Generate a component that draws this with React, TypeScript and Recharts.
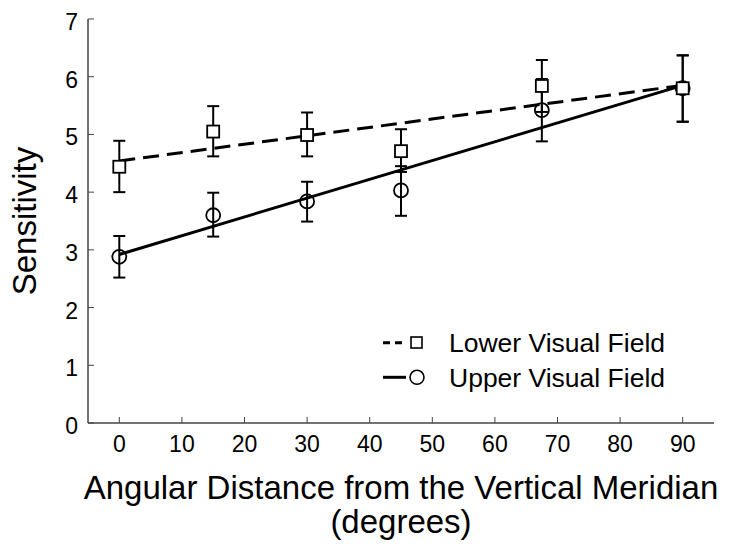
import { LineChart, Line, XAxis, YAxis, ErrorBar, Legend, Label } from "recharts"

const angles = [0, 15, 30, 45, 67.5, 90]

const lowerMean = [4.44, 5.05, 4.99, 4.71, 5.84, 5.8]
const lowerLo = [4.0, 4.62, 4.62, 4.35, 5.39, 5.22]
const lowerHi = [4.89, 5.49, 5.38, 5.09, 6.29, 6.37]

const upperMean = [2.88, 3.6, 3.84, 4.03, 5.42, 5.8]
const upperLo = [2.52, 3.23, 3.49, 3.59, 4.88, 5.22]
const upperHi = [3.24, 3.99, 4.18, 4.45, 5.96, 6.37]

// fitted lines, end points
const fitX = [0, 90]
const lowerFitY = [4.54, 5.85]
const upperFitY = [2.92, 5.85]

const xTicks = [0, 10, 20, 30, 40, 50, 60, 70, 80, 90]
const yTicks = [0, 1, 2, 3, 4, 5, 6, 7]

const points = angles.map((x, i) => ({
  x,
  lower: lowerMean[i],
  lowerErr: [lowerMean[i] - lowerLo[i], lowerHi[i] - lowerMean[i]],
  upper: upperMean[i],
  upperErr: [upperMean[i] - upperLo[i], upperHi[i] - upperMean[i]],
}))

const lowerFit = fitX.map((x, i) => ({ x, y: lowerFitY[i] }))
const upperFit = fitX.map((x, i) => ({ x, y: upperFitY[i] }))

const font = "'Liberation Sans', Arial, Helvetica, sans-serif"
const frame = "#444"

const BottomTick = ({ x, y, payload }: any) => (
  <g>
    <line x1={x} y1={y} x2={x} y2={y - 6} stroke={frame} strokeWidth={1} />
    <text x={x} y={y + 29} textAnchor="middle" fontSize={23} fontFamily={font} fill="#000">
      {payload.value}
    </text>
  </g>
)

const TopTick = ({ x, y }: any) => <line x1={x} y1={y} x2={x} y2={y + 6} stroke={frame} strokeWidth={1} />

const LeftTick = ({ x, y, payload }: any) => (
  <g>
    <line x1={x} y1={y} x2={x + 6} y2={y} stroke={frame} strokeWidth={1} />
    <text x={x - 10} y={y + 11} textAnchor="end" fontSize={23} fontFamily={font} fill="#000">
      {payload.value}
    </text>
  </g>
)

const RightTick = ({ x, y }: any) => <line x1={x} y1={y} x2={x - 6} y2={y} stroke={frame} strokeWidth={1} />

const SquareDot = (props: any) => {
  const { cx, cy, index } = props
  return <rect key={"sq" + index} x={cx - 6} y={cy - 6} width={12} height={12} fill="#fff" stroke="#000" strokeWidth={1.8} />
}

const CircleDot = (props: any) => {
  const { cx, cy, index } = props
  return <circle key={"ci" + index} cx={cx} cy={cy} r={7} fill="none" stroke="#000" strokeWidth={1.8} />
}

const renderLegend = () => (
  <svg width={320} height={70} style={{ display: "block" }}>
    <line x1={8} y1={17.7} x2={31} y2={17.7} stroke="#000" strokeWidth={3} strokeDasharray="7 5" />
    <rect x={36} y={12} width={11} height={11} fill="#fff" stroke="#000" strokeWidth={1.6} />
    <text x={74} y={27} fontSize={26.5} fontFamily={font} fill="#000">Lower Visual Field</text>
    <line x1={8} y1={52.3} x2={31} y2={52.3} stroke="#000" strokeWidth={3} />
    <circle cx={42} cy={52.3} r={7} fill="none" stroke="#000" strokeWidth={1.6} />
    <text x={74} y={61.5} fontSize={26.5} fontFamily={font} fill="#000">Upper Visual Field</text>
  </svg>
)

export default function App() {
  return (
    <div style={{ position: "absolute", left: 0, top: 0, background: "#fff" }}>
      <LineChart width={729} height={554} data={points} margin={{ top: 19, right: 15, left: 0, bottom: 0 }}>
        <XAxis
          dataKey="x"
          type="number"
          domain={[-5, 95]}
          ticks={xTicks}
          interval={0}
          height={131}
          tickSize={0}
          tickMargin={0}
          tickLine={false}
          axisLine={{ stroke: frame, strokeWidth: 1.5 }}
          tick={BottomTick}
        >
          <Label
            content={({ viewBox }: any) => {
              const cx = viewBox.x + viewBox.width / 2
              return (
                <text textAnchor="middle" fontSize={33} fontFamily={font} fill="#000">
                  <tspan x={cx} y={viewBox.y + 76}>Angular Distance from the Vertical Meridian</tspan>
                  <tspan x={cx} y={viewBox.y + 110}>(degrees)</tspan>
                </text>
              )
            }}
          />
        </XAxis>
        <XAxis
          xAxisId="top"
          orientation="top"
          dataKey="x"
          type="number"
          domain={[-5, 95]}
          ticks={xTicks}
          interval={0}
          height={0}
          tickSize={0}
          tickMargin={0}
          tickLine={false}
          axisLine={{ stroke: frame, strokeWidth: 1.5 }}
          tick={TopTick}
        />
        <YAxis
          type="number"
          domain={[0, 7]}
          ticks={yTicks}
          interval={0}
          width={88}
          tickSize={0}
          tickMargin={0}
          tickLine={false}
          axisLine={{ stroke: frame, strokeWidth: 1.5 }}
          tick={LeftTick}
        >
          <Label
            content={({ viewBox }: any) => {
              const cx = viewBox.x + 24
              const cy = viewBox.y + viewBox.height / 2
              return (
                <text
                  x={cx}
                  y={cy}
                  transform={`rotate(-90, ${cx}, ${cy})`}
                  textAnchor="middle"
                  dominantBaseline="central"
                  fontSize={33}
                  fontFamily={font}
                  fill="#000"
                >
                  Sensitivity
                </text>
              )
            }}
          />
        </YAxis>
        <YAxis
          yAxisId="right"
          orientation="right"
          type="number"
          domain={[0, 7]}
          ticks={yTicks}
          interval={0}
          width={0}
          tickSize={0}
          tickMargin={0}
          tickLine={false}
          axisLine={{ stroke: frame, strokeWidth: 1.5 }}
          tick={RightTick}
        />
        <Line dataKey="upper" stroke="none" dot={CircleDot} activeDot={false} isAnimationActive={false} legendType="none">
          <ErrorBar dataKey="upperErr" width={6} stroke="#000" strokeWidth={2} />
        </Line>
        <Line dataKey="lower" stroke="none" dot={SquareDot} activeDot={false} isAnimationActive={false} legendType="none">
          <ErrorBar dataKey="lowerErr" width={6} stroke="#000" strokeWidth={2} />
        </Line>
        <Line
          data={lowerFit}
          dataKey="y"
          type="linear"
          stroke="#000"
          strokeWidth={3}
          strokeDasharray="16 8"
          dot={false}
          activeDot={false}
          isAnimationActive={false}
        />
        <Line
          data={upperFit}
          dataKey="y"
          type="linear"
          stroke="#000"
          strokeWidth={3}
          dot={false}
          activeDot={false}
          isAnimationActive={false}
        />
        <Legend
          layout="vertical"
          align="center"
          verticalAlign="middle"
          content={renderLegend}
          wrapperStyle={{ position: "absolute", left: 375, top: 325, width: 320, height: 70 }}
        />
      </LineChart>
    </div>
  )
}
